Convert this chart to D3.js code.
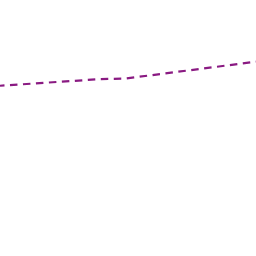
<!DOCTYPE html>
<html><head><meta charset="utf-8">
<script src="https://cdn.jsdelivr.net/npm/d3@7"></script>
<style>html,body{margin:0;padding:0;background:#fff;}svg{display:block;}</style>
</head><body>
<svg id="c" width="256" height="256"></svg>
<script>
const xValues = [0, 100, 125, 256];
const seriesValues = [66.5, 69.1, 69.3, 75.9];

const W = 256, H = 256;
const x = d3.scaleLinear().domain([0, 256]).range([0, W]);
const y = d3.scaleLinear().domain([0, 100]).range([H, 0]);
const svg = d3.select("#c");
const line = d3.line().x((d, i) => x(xValues[i])).y(d => y(d));
svg.append("path")
  .datum(seriesValues)
  .attr("d", line)
  .attr("fill", "none")
  .attr("stroke", "#8a1a82")
  .attr("stroke-width", 2.2)
  .attr("stroke-dasharray", "7.5,5.5")
  .attr("stroke-dashoffset", 3);
</script>
</body></html>
